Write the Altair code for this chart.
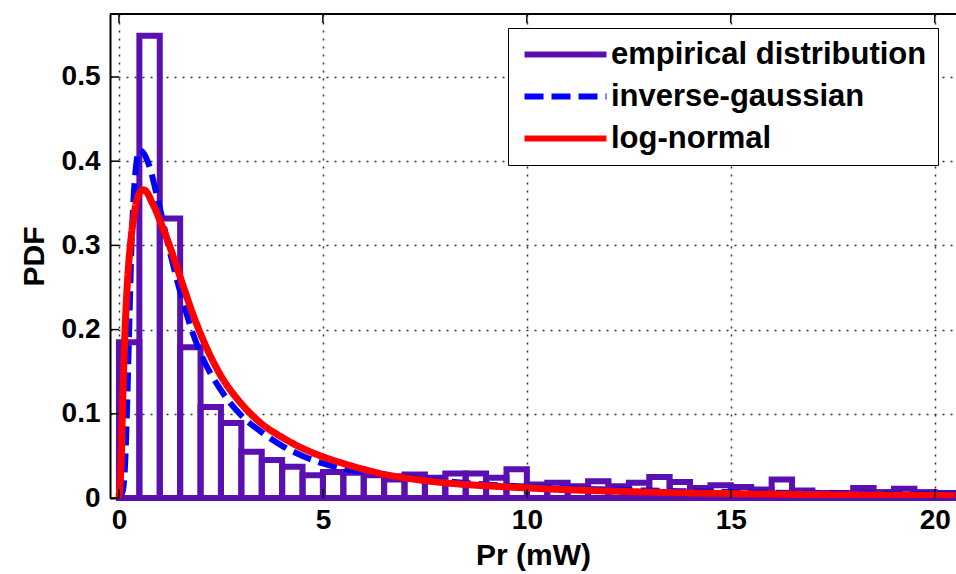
import altair as alt
import pandas as pd

FONT = "Liberation Sans"

series_names = ["empirical distribution", "inverse-gaussian", "log-normal"]
series_colors = ["#5a0fb0", "#0000ff", "#ff0000"]

# empirical histogram (bin width 0.5 mW)
bin_left = [0.0, 0.5, 1.0, 1.5, 2.0, 2.5, 3.0, 3.5, 4.0, 4.5,
            5.0, 5.5, 6.0, 6.5, 7.0, 7.5, 8.0, 8.5, 9.0, 9.5,
            10.0, 10.5, 11.0, 11.5, 12.0, 12.5, 13.0, 13.5, 14.0, 14.5,
            15.0, 15.5, 16.0, 16.5, 17.0, 17.5, 18.0, 18.5, 19.0, 19.5, 20.0]
bin_right = [0.5, 1.0, 1.5, 2.0, 2.5, 3.0, 3.5, 4.0, 4.5, 5.0,
             5.5, 6.0, 6.5, 7.0, 7.5, 8.0, 8.5, 9.0, 9.5, 10.0,
             10.5, 11.0, 11.5, 12.0, 12.5, 13.0, 13.5, 14.0, 14.5, 15.0,
             15.5, 16.0, 16.5, 17.0, 17.5, 18.0, 18.5, 19.0, 19.5, 20.0, 20.5]
hist_pdf = [0.185, 0.549, 0.332, 0.179, 0.108, 0.089, 0.055, 0.045, 0.037, 0.027,
            0.031, 0.030, 0.027, 0.022, 0.028, 0.024, 0.029, 0.029, 0.024, 0.034,
            0.016, 0.018, 0.014, 0.020, 0.014, 0.018, 0.025, 0.019, 0.012, 0.015,
            0.013, 0.010, 0.022, 0.009, 0.006, 0.006, 0.012, 0.007, 0.011, 0.007, 0.006]

# fitted curves
curve_x = [0.0, 0.05, 0.1, 0.15, 0.2, 0.25, 0.3, 0.4, 0.5, 0.6,
           0.7, 0.8, 0.9, 1.0, 1.2, 1.4, 1.6, 1.8, 2.0, 2.5,
           3.0, 3.5, 4.0, 4.5, 5.0, 5.5, 6.0, 6.5, 7.0, 8.0,
           9.0, 10.0, 11.0, 12.0, 13.0, 14.0, 15.0, 16.0, 17.0, 18.0,
           19.0, 20.0, 20.5]
ig_pdf = [0.0, 0.003, 0.01, 0.04, 0.11, 0.2, 0.29, 0.385, 0.413, 0.41,
          0.4, 0.385, 0.365, 0.345, 0.302, 0.263, 0.228, 0.197, 0.172, 0.128,
          0.098, 0.078, 0.062, 0.05, 0.041, 0.035, 0.031, 0.028, 0.025, 0.02,
          0.016, 0.0135, 0.0115, 0.01, 0.0088, 0.0078, 0.007, 0.0063, 0.0058, 0.0054,
          0.005, 0.0047, 0.0046]
ln_pdf = [0.0, 0.04, 0.13, 0.2, 0.25, 0.285, 0.31, 0.345, 0.362, 0.366,
          0.362, 0.352, 0.342, 0.33, 0.305, 0.277, 0.248, 0.22, 0.195, 0.145,
          0.112, 0.088, 0.072, 0.059, 0.049, 0.041, 0.034, 0.028, 0.024, 0.018,
          0.0145, 0.012, 0.0098, 0.0082, 0.007, 0.006, 0.0052, 0.0046, 0.0041, 0.0037,
          0.0033, 0.003, 0.0029]

x_ticks = [0, 5, 10, 15, 20]
y_ticks = [0.0, 0.1, 0.2, 0.3, 0.4, 0.5]

W, H = 846, 484

bars = pd.DataFrame({"x0": bin_left, "x1": bin_right, "pdf": hist_pdf,
                     "series": series_names[0]})
ig = pd.DataFrame({"x": curve_x, "pdf": ig_pdf, "series": series_names[1]})
ln = pd.DataFrame({"x": curve_x, "pdf": ln_pdf, "series": series_names[2]})
xt = pd.DataFrame({"v": x_ticks})
yt = pd.DataFrame({"v": y_ticks})

xs = alt.Scale(domain=[-0.22, 20.52], nice=False, zero=False)
ys = alt.Scale(domain=[0, 0.5748], nice=False)
stroke_scale = alt.Scale(domain=series_names, range=series_colors)
dash_scale = alt.Scale(domain=series_names, range=[[1, 0], [19, 8], [1, 0]])

legend = alt.Legend(
    orient="none", legendX=398, legendY=14,
    symbolType="M-4,0H4", symbolSize=420, symbolStrokeWidth=6, symbolOffset=31,
    labelFont=FONT, labelFontSize=31, labelFontWeight="bold", labelColor="black",
    labelOffset=30, labelLimit=500, rowPadding=10, padding=11,
    strokeColor="black", fillColor="white", cornerRadius=0,
)

x_axis = alt.Axis(values=x_ticks, format="d", title="Pr (mW)", grid=True,
                  tickSize=0, labelPadding=8, labelFlush=False)
y_axis = alt.Axis(values=y_ticks, title="PDF", grid=True, tickSize=0,
                  labelPadding=10,
                  labelExpr="datum.value == 0 ? '0' : format(datum.value, '.1f')")

stroke_enc = alt.Stroke("series:N", scale=stroke_scale, legend=legend, title=None)
dash_enc = alt.StrokeDash("series:N", scale=dash_scale, legend=legend, title=None)

bar_layer = alt.Chart(bars).mark_rect(filled=False, strokeWidth=6, strokeJoin="miter").encode(
    x=alt.X("x0:Q", scale=xs, axis=x_axis),
    x2="x1:Q",
    y=alt.Y("pdf:Q", scale=ys, axis=y_axis),
    y2=alt.datum(0),
    stroke=stroke_enc,
    strokeDash=dash_enc,
)

ig_layer = alt.Chart(ig).mark_line(strokeWidth=6, interpolate="monotone", clip=True).encode(
    x=alt.X("x:Q", scale=xs),
    y=alt.Y("pdf:Q", scale=ys),
    stroke=stroke_enc,
    strokeDash=dash_enc,
)

ln_layer = alt.Chart(ln).mark_line(strokeWidth=7, interpolate="monotone", clip=True).encode(
    x=alt.X("x:Q", scale=xs),
    y=alt.Y("pdf:Q", scale=ys),
    stroke=stroke_enc,
    strokeDash=dash_enc,
)

# inward MATLAB-style ticks
ytick_layer = alt.Chart(yt).mark_rule(color="black", strokeWidth=1.5).encode(
    y=alt.Y("v:Q", scale=ys), x=alt.value(0), x2=alt.value(9))
xtick_bottom = alt.Chart(xt).mark_rule(color="black", strokeWidth=1.5).encode(
    x=alt.X("v:Q", scale=xs), y=alt.value(H), y2=alt.value(H - 9))
xtick_top = alt.Chart(xt).mark_rule(color="black", strokeWidth=1.5).encode(
    x=alt.X("v:Q", scale=xs), y=alt.value(0), y2=alt.value(9))
top_border = alt.Chart(xt).mark_rule(color="black", strokeWidth=2).encode(
    x=alt.value(0), x2=alt.value(W), y=alt.value(0))

chart = alt.layer(
    bar_layer, ig_layer, ln_layer, ytick_layer, xtick_bottom, xtick_top, top_border
).properties(
    width=W, height=H,
    autosize=alt.AutoSizeParams(type="none"),
    padding={"left": 110, "top": 14, "right": 0, "bottom": 76},
    background="white",
).configure_view(
    stroke=None
).configure_axis(
    labelFont=FONT, labelFontSize=28, labelFontWeight="bold", labelColor="black",
    titleFont=FONT, titleFontSize=30, titleFontWeight="bold", titleColor="black",
    domainColor="black", domainWidth=2,
    gridColor="#333333", gridDash=[2, 6], gridWidth=1.5, gridOpacity=1,
).configure_axisX(
    titlePadding=6
).configure_axisY(
    titlePadding=12
)

chart.save("out.html", embed_options={"renderer": "svg", "actions": False})
